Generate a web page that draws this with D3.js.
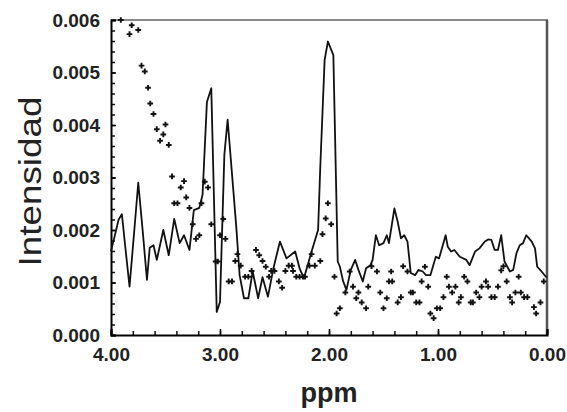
<!DOCTYPE html>
<html>
<head>
<meta charset="utf-8">
<script src="https://cdn.jsdelivr.net/npm/d3@7"></script>
<style>
  html, body { margin: 0; padding: 0; background: #fff; }
  svg { display: block; font-family: "Liberation Sans", Arial, sans-serif; }
</style>
</head>
<body>
<svg id="chart" width="567" height="412"></svg>
<script>
// Solid spectrum line (ppm, intensity)
const linePpm = [4.00, 3.97, 3.93, 3.90, 3.87, 3.83, 3.79, 3.75, 3.71, 3.67, 3.645, 3.61, 3.58, 3.52, 3.47, 3.42, 3.37, 3.33,
  3.28, 3.24, 3.19, 3.16, 3.12, 3.08, 3.03, 3.00, 2.96, 2.93, 2.85, 2.82, 2.78, 2.74, 2.70, 2.65, 2.61, 2.56, 2.51,
  2.45, 2.39, 2.31, 2.27, 2.23, 2.16, 2.10, 2.08, 2.04, 2.01, 1.96, 1.92, 1.90, 1.87, 1.84, 1.80, 1.76, 1.73, 1.69,
  1.66, 1.62, 1.60, 1.57, 1.54, 1.50, 1.47, 1.45, 1.40, 1.37, 1.34, 1.31, 1.28, 1.25, 1.21, 1.18, 1.14, 1.11, 1.07,
  1.02, 0.99, 0.93, 0.91, 0.88, 0.85, 0.80, 0.74, 0.71, 0.66, 0.62, 0.57, 0.54, 0.51, 0.48, 0.45, 0.42, 0.39, 0.34,
  0.31, 0.28, 0.25, 0.22, 0.19, 0.14, 0.11, 0.09, 0.05, 0.01, 0.00];
const lineInt = [0.00160, 0.00185, 0.00220, 0.00230, 0.00170, 0.00092, 0.00190, 0.00290, 0.00200, 0.00105, 0.00166, 0.00171, 0.00143, 0.00200, 0.00152, 0.00221, 0.00175, 0.00190,
  0.00162, 0.00238, 0.00242, 0.00267, 0.00444, 0.00470, 0.00044, 0.00063, 0.00343, 0.00410, 0.00204, 0.00114, 0.00070, 0.00070, 0.00121, 0.00070, 0.00110, 0.00073, 0.00127,
  0.00178, 0.00146, 0.00159, 0.00127, 0.00108, 0.00159, 0.00200, 0.00320, 0.00524, 0.00559, 0.00533, 0.00140, 0.00130, 0.00102, 0.00086, 0.00124, 0.00143, 0.00124, 0.00102,
  0.00127, 0.00133, 0.00143, 0.00190, 0.00171, 0.00175, 0.00190, 0.00175, 0.00241, 0.00216, 0.00184, 0.00190, 0.00178, 0.00118, 0.00114, 0.00124, 0.00121, 0.00114, 0.00114,
  0.00149, 0.00146, 0.00190, 0.00168, 0.00159, 0.00162, 0.00149, 0.00143, 0.00133, 0.00159, 0.00165, 0.00178, 0.00182, 0.00181, 0.00162, 0.00162, 0.00190, 0.00140, 0.00121,
  0.00124, 0.00156, 0.00171, 0.00175, 0.00190, 0.00178, 0.00165, 0.00130, 0.00121, 0.00111, 0.00110];

// "+" markers (ppm, intensity)
const dotPpm = [3.91, 3.83, 3.81, 3.75, 3.72, 3.69, 3.66, 3.64, 3.61, 3.58, 3.55, 3.52, 3.50, 3.47, 3.44, 3.42, 3.39, 3.36,
  3.33, 3.31, 3.28, 3.25, 3.22, 3.19, 3.17, 3.14, 3.11, 3.08, 3.04, 3.02, 3.00, 2.97, 2.95, 2.92, 2.89, 2.86, 2.84,
  2.81, 2.77, 2.74, 2.71, 2.67, 2.64, 2.61, 2.58, 2.55, 2.53, 2.50, 2.46, 2.43, 2.40, 2.37, 2.34, 2.33, 2.30, 2.27,
  2.24, 2.22, 2.18, 2.16, 2.13, 2.08, 2.06, 2.03, 2.01, 1.98, 1.95, 1.93, 1.90, 1.85, 1.81, 1.78, 1.75, 1.73, 1.70,
  1.66, 1.64, 1.61, 1.56, 1.53, 1.50, 1.47, 1.45, 1.42, 1.43, 1.37, 1.34, 1.32, 1.28, 1.25, 1.23, 1.20, 1.17, 1.15,
  1.12, 1.09, 1.07, 1.04, 1.01, 0.98, 0.95, 0.92, 0.90, 0.87, 0.84, 0.81, 0.79, 0.76, 0.73, 0.70, 0.68, 0.65, 0.62,
  0.60, 0.56, 0.54, 0.51, 0.48, 0.45, 0.42, 0.40, 0.37, 0.34, 0.32, 0.29, 0.26, 0.24, 0.21, 0.18, 0.12, 0.10, 0.06, 0.03];
const dotInt = [0.00600, 0.00573, 0.00590, 0.00581, 0.00513, 0.00502, 0.00471, 0.00441, 0.00421, 0.00392, 0.00370, 0.00382, 0.00401, 0.00362, 0.00302, 0.00251, 0.00251, 0.00281,
  0.00293, 0.00262, 0.00242, 0.00211, 0.00183, 0.00190, 0.00251, 0.00292, 0.00281, 0.00211, 0.00140, 0.00140, 0.00190, 0.00221, 0.00183, 0.00102, 0.00102, 0.00141, 0.00154,
  0.00132, 0.00111, 0.00111, 0.00122, 0.00162, 0.00152, 0.00141, 0.00130, 0.00111, 0.00122, 0.00122, 0.00102, 0.00090, 0.00122, 0.00132, 0.00132, 0.00122, 0.00111, 0.00111,
  0.00111, 0.00111, 0.00132, 0.00154, 0.00132, 0.00141, 0.00192, 0.00222, 0.00251, 0.00211, 0.00111, 0.00041, 0.00051, 0.00081, 0.00121, 0.00092, 0.00070, 0.00081, 0.00062,
  0.00051, 0.00092, 0.00131, 0.00121, 0.00081, 0.00051, 0.00070, 0.00102, 0.00102, 0.00121, 0.00062, 0.00072, 0.00131, 0.00121, 0.00081, 0.00081, 0.00062, 0.00062, 0.00102,
  0.00130, 0.00092, 0.00041, 0.00032, 0.00051, 0.00051, 0.00072, 0.00111, 0.00092, 0.00081, 0.00092, 0.00062, 0.00072, 0.00111, 0.00102, 0.00062, 0.00062, 0.00081, 0.00072,
  0.00092, 0.00102, 0.00092, 0.00072, 0.00072, 0.00092, 0.00123, 0.00131, 0.00102, 0.00072, 0.00062, 0.00081, 0.00111, 0.00081, 0.00072, 0.00072, 0.00053, 0.00041, 0.00062, 0.00102];

const xTicks = [4, 3, 2, 1, 0];
const yTicks = [0, 0.001, 0.002, 0.003, 0.004, 0.005, 0.006];

const M = { left: 111, right: 547, top: 20, bottom: 335 };
const svg = d3.select("#chart");

const x = d3.scaleLinear().domain([4, 0]).range([M.left, M.right]);
const y = d3.scaleLinear().domain([0, 0.006]).range([M.bottom, M.top]);

// frame: top light gray, right dark gray
svg.append("line").attr("x1", M.left).attr("x2", M.right + 1).attr("y1", M.top).attr("y2", M.top)
  .attr("stroke", "#8a8a8a").attr("stroke-width", 2);
svg.append("line").attr("x1", M.right).attr("x2", M.right).attr("y1", M.top).attr("y2", M.bottom)
  .attr("stroke", "#555").attr("stroke-width", 2.5);

// minor ticks
const yMinor = d3.range(0, 31).map(i => i * 0.0002);
svg.append("g").attr("transform", `translate(${M.left},0)`)
  .call(d3.axisLeft(y).tickValues(yMinor).tickSize(-4).tickFormat(""))
  .call(g => g.select(".domain").remove())
  .selectAll("line").attr("stroke", "#111").attr("stroke-width", 1.5);

const xMinor = d3.range(0, 21).map(i => i * 0.2);
svg.append("g").attr("transform", `translate(0,${M.bottom})`)
  .call(d3.axisBottom(x).tickValues(xMinor).tickSize(-4).tickFormat(""))
  .call(g => g.select(".domain").remove())
  .selectAll("line").attr("stroke", "#111").attr("stroke-width", 1.5);

// major axes with labels
const yAxis = svg.append("g").attr("transform", `translate(${M.left},0)`)
  .call(d3.axisLeft(y).tickValues(yTicks).tickSize(-5).tickPadding(11).tickFormat(d3.format(".3f")));
yAxis.select(".domain").attr("stroke", "#000").attr("stroke-width", 2);
yAxis.selectAll("line").attr("stroke", "#000").attr("stroke-width", 1.5);
yAxis.selectAll("text").attr("font-size", 19).attr("font-weight", "bold").attr("fill", "#222")
  .attr("font-family", "Liberation Sans, Arial, sans-serif");

const xAxis = svg.append("g").attr("transform", `translate(0,${M.bottom})`)
  .call(d3.axisBottom(x).tickValues(xTicks).tickSize(-6).tickPadding(13).tickFormat(d3.format(".2f")));
xAxis.select(".domain").attr("stroke", "#000").attr("stroke-width", 2);
xAxis.selectAll("line").attr("stroke", "#000").attr("stroke-width", 1.5);
xAxis.selectAll("text").attr("font-size", 19).attr("font-weight", "bold").attr("fill", "#222")
  .attr("font-family", "Liberation Sans, Arial, sans-serif");

// spectrum line
const lineData = linePpm.map((p, i) => [p, lineInt[i]]);
svg.append("path")
  .datum(lineData)
  .attr("d", d3.line().x(d => x(d[0])).y(d => y(d[1])))
  .attr("fill", "none")
  .attr("stroke", "#111")
  .attr("stroke-width", 1.8)
  .attr("stroke-linejoin", "round");

// "+" markers
const cross = d3.symbol().type(d3.symbolCross).size(18);
svg.append("g").selectAll("path")
  .data(dotPpm.map((p, i) => [p, dotInt[i]]))
  .join("path")
  .attr("transform", d => `translate(${x(d[0])},${y(d[1])})`)
  .attr("d", cross)
  .attr("fill", "#111");

// axis titles
svg.append("text")
  .attr("transform", `translate(41,${(M.top + M.bottom) / 2 + 4}) rotate(-90)`)
  .attr("text-anchor", "middle")
  .attr("font-size", 32)
  .attr("fill", "#222")
  .attr("textLength", 170)
  .attr("lengthAdjust", "spacingAndGlyphs")
  .text("Intensidad");

svg.append("text")
  .attr("x", 329)
  .attr("y", 402)
  .attr("text-anchor", "middle")
  .attr("font-size", 27)
  .attr("font-weight", "bold")
  .attr("fill", "#222")
  .text("ppm");
</script>
</body>
</html>
